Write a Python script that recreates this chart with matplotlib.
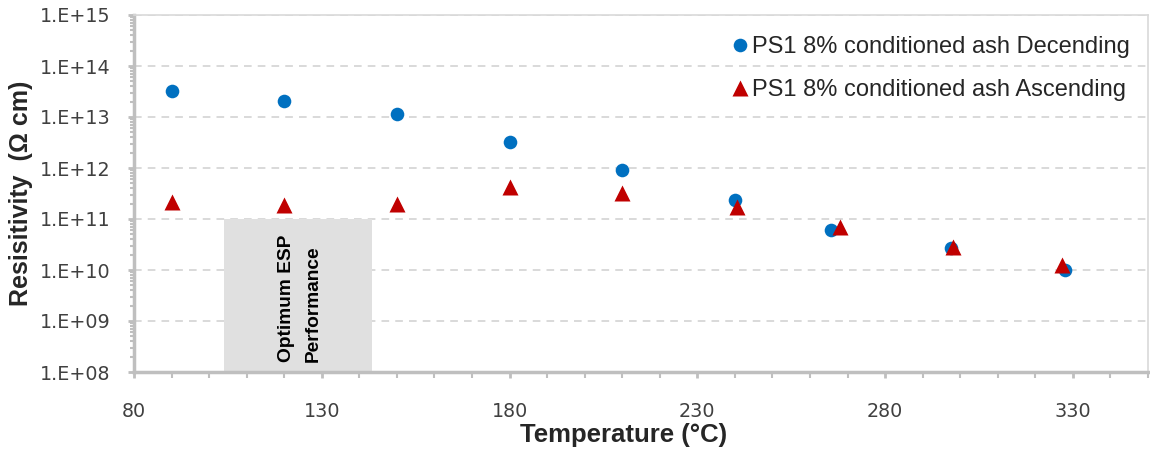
import matplotlib
matplotlib.use("Agg")
import matplotlib.pyplot as plt
from matplotlib.ticker import LogLocator, NullFormatter, MultipleLocator
import numpy as np

# Data
temp_desc = [90, 120, 150, 180, 210, 240, 265.5, 297.5, 328]
res_desc = [3.3e13, 2.1e13, 1.15e13, 3.2e12, 9.0e11, 2.4e11, 6.1e10, 2.7e10, 1.0e10]
temp_asc = [90, 120, 150, 180, 210, 240.5, 268, 298, 327]
res_asc = [2.2e11, 1.9e11, 2.0e11, 4.3e11, 3.2e11, 1.7e11, 6.9e10, 2.8e10, 1.23e10]
label_desc = "PS1 8% conditioned ash Decending"
label_asc = "PS1 8% conditioned ash Ascending"
zone_x = [104, 143.5]
zone_top = 1e11
zone_text = "Optimum ESP\nPerformance"
xticks = [80, 130, 180, 230, 280, 330]
yticks = [1e8, 1e9, 1e10, 1e11, 1e12, 1e13, 1e14, 1e15]
ytick_labels = ["1.E+08", "1.E+09", "1.E+10", "1.E+11", "1.E+12", "1.E+13", "1.E+14", "1.E+15"]

plt.rcParams['font.family'] = ['Liberation Sans', 'DejaVu Sans']

fig = plt.figure(figsize=(11.5, 4.54), dpi=100)
ax = fig.add_axes([134/1150, 1-372/454, (1148-134)/1150, (372-15)/454])

ax.set_yscale('log')
ax.set_xlim(80, 350)
ax.set_ylim(1e8, 1e15)

# shaded zone
ax.fill_between(zone_x, [1e8, 1e8], [zone_top, zone_top], color='#e0e0e0', lw=0, zorder=1)
ax.text(sum(zone_x)/2 + 0.5, 1.6e8, zone_text, rotation=90, ha='center', va='bottom',
        fontsize=13.8, fontweight='bold', color='black', linespacing=1.75,
        multialignment='left', zorder=2)

ax.plot(temp_desc, res_desc, 'o', color='#0070C0', ms=9.8, mec='none', label=label_desc, zorder=3)
ax.plot(temp_asc, res_asc, '^', color='#C00000', ms=12, mec='none', label=label_asc, zorder=3)

# grid
ax.yaxis.grid(True, which='major', color='#d0d0d0', linestyle=(0, (5, 4)), lw=1.1, zorder=0)
ax.set_axisbelow(True)

ax.set_yticks(yticks)
ax.set_yticklabels(ytick_labels)
ax.yaxis.set_minor_locator(LogLocator(base=10, subs=np.arange(2, 10)))
ax.yaxis.set_minor_formatter(NullFormatter())
ax.set_xticks(xticks)
ax.xaxis.set_minor_locator(MultipleLocator(10))

for s in ['left', 'bottom']:
    ax.spines[s].set_color('#bfbfbf')
    ax.spines[s].set_linewidth(2.5)
for s in ['top', 'right']:
    ax.spines[s].set_color('#d9d9d9')
    ax.spines[s].set_linewidth(1.2)

ax.tick_params(axis='both', which='major', direction='out', length=4, width=2, color='#bfbfbf',
               labelsize=13.8, labelcolor='#404040')
ax.tick_params(axis='both', which='minor', direction='out', length=3, width=1.5, color='#bfbfbf')
ax.tick_params(axis='x', which='both', length=4.5)
ax.tick_params(axis='x', pad=17)
ax.tick_params(axis='y', pad=13)
for lab in ax.get_xticklabels() + ax.get_yticklabels():
    lab.set_family('DejaVu Sans')

ax.set_xlabel("Temperature (°C)", fontsize=18.5, fontweight='bold', color='#262626', labelpad=1)
ax.set_ylabel("Resisitivity  (Ω cm)", fontsize=18, fontweight='bold', color='#262626', labelpad=5)
ax.xaxis.set_label_coords((624-134)/(1148-134), -(435-372)/(372-15), transform=ax.transAxes)
ax.xaxis.label.set_va('center')

leg = ax.legend(loc='upper right', frameon=False, fontsize=17, handletextpad=0.1,
                handlelength=0.75, borderaxespad=0.0, labelspacing=0.9, markerscale=1.0,
                bbox_to_anchor=(0.991, 0.968))
for t in leg.get_texts():
    t.set_color('#262626')

fig.savefig("out.png", dpi=100)
